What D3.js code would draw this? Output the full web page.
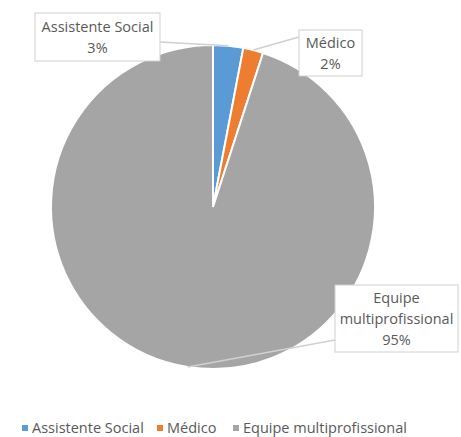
<!DOCTYPE html>
<html>
<head>
<meta charset="UTF-8">
<script src="https://d3js.org/d3.v7.min.js"></script>
<style>
  body { margin: 0; background: #fff; }
  text { font-family: "Open Sans", sans-serif; fill: #595959; }
</style>
</head>
<body>
<div id="chart"></div>
<script>
// data
var categories = ["Assistente Social", "Médico", "Equipe multiprofissional"];
var values = [3, 2, 95];
var colors = ["#5b9bd5", "#ed7d31", "#a5a5a5"];

var width = 461, height = 437;
var cx = 213, cy = 207, radius = 162;

var svg = d3.select("#chart").append("svg")
  .attr("width", width)
  .attr("height", height);

var pie = d3.pie().sort(null).value(function(d) { return d; });
var arcs = pie(values);

var arc = d3.arc().innerRadius(0).outerRadius(radius);

var g = svg.append("g").attr("transform", "translate(" + cx + "," + cy + ")");

g.selectAll("path")
  .data(arcs)
  .enter().append("path")
  .attr("d", arc)
  .attr("fill", function(d, i) { return colors[i]; })
  .attr("stroke", "#fff")
  .attr("stroke-width", 2);

// label boxes (x, y, w, h) and where the leader line leaves the box
var boxes = [
  { x: 35, y: 13, w: 125, h: 48, ax: 160, ay: 42, lines: ["Assistente Social"] },
  { x: 299, y: 30, w: 63, h: 46, ax: 299, ay: 37, lines: ["Médico"] },
  { x: 335, y: 285, w: 123, h: 67, ax: 335, ay: 340, lines: ["Equipe", "multiprofissional"] }
];

function edgePoint(d) {
  var a = (d.startAngle + d.endAngle) / 2;
  return [cx + radius * Math.sin(a), cy - radius * Math.cos(a)];
}

// leader lines
boxes.forEach(function(b, i) {
  var p = edgePoint(arcs[i]);
  svg.append("line")
    .attr("x1", b.ax).attr("y1", b.ay)
    .attr("x2", p[0]).attr("y2", p[1])
    .attr("stroke", "#d0d0d0")
    .attr("stroke-width", 1.5);
});

boxes.forEach(function(b, i) {
  svg.append("rect")
    .attr("x", b.x).attr("y", b.y)
    .attr("width", b.w).attr("height", b.h)
    .attr("fill", "#fff")
    .attr("stroke", "#d0d0d0")
    .attr("stroke-width", 1);
  var lines = b.lines.concat([values[i] + "%"]);
  var lh = 21;
  var top = b.y + b.h / 2 - (lines.length - 1) * lh / 2;
  lines.forEach(function(t, j) {
    svg.append("text")
      .attr("x", b.x + b.w / 2)
      .attr("y", top + j * lh)
      .attr("dy", "0.35em")
      .attr("text-anchor", "middle")
      .style("font-size", "14.5px")
      .text(t);
  });
});

// legend
var legendX = [22, 157, 233];
var legend = svg.append("g");
categories.forEach(function(c, i) {
  legend.append("rect")
    .attr("x", legendX[i]).attr("y", 425)
    .attr("width", 6).attr("height", 6)
    .attr("fill", colors[i]);
  legend.append("text")
    .attr("x", legendX[i] + 10)
    .attr("y", 428)
    .attr("dy", "0.35em")
    .style("font-size", "14.5px")
    .text(c);
});
</script>
</body>
</html>
